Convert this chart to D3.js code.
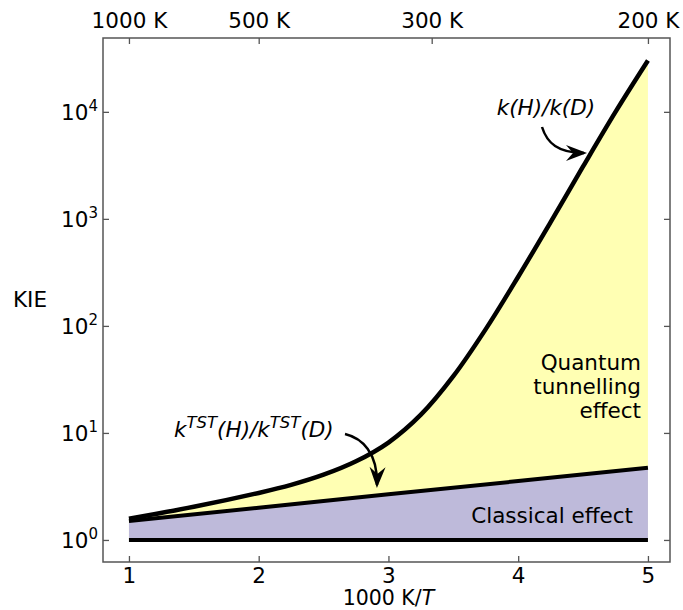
<!DOCTYPE html>
<html>
<head>
<meta charset="utf-8">
<script src="https://cdn.jsdelivr.net/npm/d3@7"></script>
<style>
  html, body { margin: 0; padding: 0; background: #fff; }
  svg { display: block; font-family: "DejaVu Sans", Verdana, sans-serif; }
</style>
</head>
<body>
<svg id="chart" width="683" height="610"></svg>
<script>
// ---- data ----
const xTicks = [1, 2, 3, 4, 5];
const topTemps = [1000, 500, 300, 200];            // K, placed at 1000/T
const yTickExps = [0, 1, 2, 3, 4];

const invT = [1, 1.5, 2, 2.25, 2.5, 2.75, 3, 3.25, 3.5, 3.75, 4, 4.25, 4.5, 4.75, 5];
const kieTunnel = [1.58, 2.04, 2.75, 3.27, 4.07, 5.43, 8.13, 14.8, 33.9, 93.3, 288, 933, 3090, 10000, 30200];

const invTClassical = [1, 2, 3, 4, 5];
const kieClassical = [1.5, 2.0, 2.67, 3.55, 4.72];

const invTBase = [1, 5];
const kieBase = [1, 1];

// ---- layout ----
const W = 683, H = 610;
const m = { left: 103, right: 13, top: 38, bottom: 48 };
const svg = d3.select("#chart");

const x = d3.scaleLinear().domain([0.8, 5.17]).range([m.left, W - m.right]);
const y = d3.scaleLog().domain([Math.pow(10, -0.206), Math.pow(10, 4.69)]).range([H - m.bottom, m.top]);

const FS = 21.5;
const axisColor = "#555";

const tunnel = invT.map((v, i) => ({ x: v, y: kieTunnel[i] }));
const classical = invTClassical.map((v, i) => ({ x: v, y: kieClassical[i] }));
const base = invTBase.map((v, i) => ({ x: v, y: kieBase[i] }));

const smooth = d3.curveCatmullRom.alpha(0.5);

// fills
svg.append("path")
  .datum(tunnel)
  .attr("fill", "#ffffb3")
  .attr("d", d3.area().x(d => x(d.x)).y0(y(1)).y1(d => y(d.y)).curve(smooth));

svg.append("path")
  .datum(classical)
  .attr("fill", "#bebada")
  .attr("d", d3.area().x(d => x(d.x)).y0(y(1)).y1(d => y(d.y)));

// lines
const line = d3.line().x(d => x(d.x)).y(d => y(d.y));
svg.append("path").datum(base).attr("fill", "none").attr("stroke", "#000").attr("stroke-width", 4).attr("d", line);
svg.append("path").datum(classical).attr("fill", "none").attr("stroke", "#000").attr("stroke-width", 4).attr("d", line);
svg.append("path").datum(tunnel).attr("fill", "none").attr("stroke", "#000").attr("stroke-width", 4.5)
  .attr("d", d3.line().x(d => x(d.x)).y(d => y(d.y)).curve(smooth));

// frame
svg.append("rect")
  .attr("x", m.left).attr("y", m.top)
  .attr("width", W - m.left - m.right).attr("height", H - m.top - m.bottom)
  .attr("fill", "none").attr("stroke", axisColor).attr("stroke-width", 1.5);

// axes (ticks inward)
const bottomAxis = d3.axisBottom(x).tickValues(xTicks).tickSize(-6).tickPadding(6).tickFormat(d3.format("d"));
const gB = svg.append("g").attr("transform", `translate(0,${H - m.bottom})`).call(bottomAxis);
gB.select(".domain").remove();
gB.selectAll("line").attr("stroke", axisColor).attr("stroke-width", 1.3);
gB.selectAll("text").attr("font-size", FS).attr("fill", "#000").attr("font-family", "DejaVu Sans");

const topAxis = d3.axisTop(x).tickValues(topTemps.map(t => 1000 / t)).tickSize(-6).tickPadding(10)
  .tickFormat((d, i) => topTemps[i] + " K");
const gT = svg.append("g").attr("transform", `translate(0,${m.top})`).call(topAxis);
gT.select(".domain").remove();
gT.selectAll("line").attr("stroke", axisColor).attr("stroke-width", 1.3);
gT.selectAll("text").attr("font-size", FS).attr("fill", "#000").attr("font-family", "DejaVu Sans");

const leftAxis = d3.axisLeft(y).tickValues(yTickExps.map(e => Math.pow(10, e))).tickSize(-6).tickFormat("");
const gL = svg.append("g").attr("transform", `translate(${m.left},0)`).call(leftAxis);
gL.select(".domain").remove();
gL.selectAll("line").attr("stroke", axisColor).attr("stroke-width", 1.3);

const rightAxis = d3.axisRight(y).tickValues(yTickExps.map(e => Math.pow(10, e))).tickSize(-6).tickFormat("");
const gR = svg.append("g").attr("transform", `translate(${W - m.right},0)`).call(rightAxis);
gR.select(".domain").remove();
gR.selectAll("line").attr("stroke", axisColor).attr("stroke-width", 1.3);

// y tick labels with superscripts
yTickExps.forEach(e => {
  const t = svg.append("text")
    .attr("x", m.left - 5).attr("y", y(Math.pow(10, e)) + 8)
    .attr("text-anchor", "end").attr("font-size", FS);
  t.append("tspan").text("10");
  t.append("tspan").attr("dy", -9).attr("font-size", 15).text(e);
});

// axis titles
svg.append("text").attr("x", 30).attr("y", 307).attr("text-anchor", "middle").attr("font-size", FS).text("KIE");
const xt = svg.append("text").attr("x", x(3)).attr("y", 605).attr("text-anchor", "middle").attr("font-size", 20.5);
xt.append("tspan").text("1000 K/");
xt.append("tspan").attr("font-style", "italic").text("T");

// region labels
const q = svg.append("text").attr("text-anchor", "end").attr("font-size", FS);
["Quantum", "tunnelling", "effect"].forEach((s, i) => {
  q.append("tspan").attr("x", 641).attr("y", 370 + i * 24).text(s);
});
svg.append("text").attr("x", 633).attr("y", 523).attr("text-anchor", "end").attr("font-size", FS).text("Classical effect");

// curve labels
const l1 = svg.append("text").attr("x", 546).attr("y", 115).attr("text-anchor", "middle")
  .attr("font-size", FS).attr("font-style", "italic");
l1.text("k(H)/k(D)");

const l2 = svg.append("text").attr("x", 174).attr("y", 437).attr("font-size", FS).attr("font-style", "italic");
l2.append("tspan").text("k");
l2.append("tspan").attr("dy", -9).attr("font-size", 16.5).text("TST");
l2.append("tspan").attr("dy", 9).text("(H)/k");
l2.append("tspan").attr("dy", -9).attr("font-size", 16.5).text("TST");
l2.append("tspan").attr("dy", 9).text("(D)");

// arrows
function arrow(p0, c1, c2, tip) {
  svg.append("path")
    .attr("d", `M${p0[0]},${p0[1]} C${c1[0]},${c1[1]} ${c2[0]},${c2[1]} ${tip[0]},${tip[1]}`)
    .attr("fill", "none").attr("stroke", "#000").attr("stroke-width", 2.5);
  const ang = Math.atan2(tip[1] - c2[1], tip[0] - c2[0]);
  const L = 21, Wd = 8, N = 14;
  const ux = Math.cos(ang), uy = Math.sin(ang), nx = -uy, ny = ux;
  const tx = tip[0] + ux * 3, ty = tip[1] + uy * 3;
  const pts = [
    [tx, ty],
    [tx - ux * L + nx * Wd, ty - uy * L + ny * Wd],
    [tx - ux * N, ty - uy * N],
    [tx - ux * L - nx * Wd, ty - uy * L - ny * Wd]
  ];
  svg.append("path").attr("d", "M" + pts.map(p => p.join(",")).join("L") + "Z").attr("fill", "#000");
}
arrow([542, 127], [547, 143], [558, 153], [584, 153]);
arrow([345, 434], [362, 438], [378, 453], [377, 485]);
</script>
</body>
</html>
